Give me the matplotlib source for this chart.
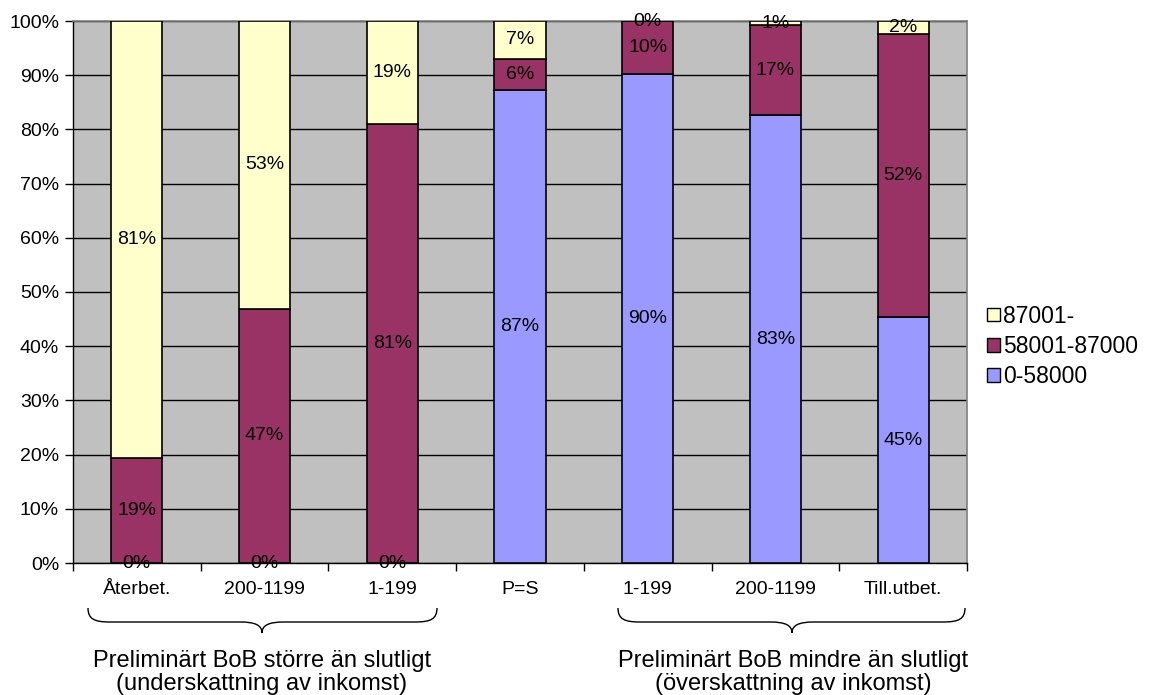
import matplotlib
matplotlib.use("Agg")
import matplotlib.pyplot as plt
import numpy as np
from matplotlib.path import Path
from matplotlib.patches import PathPatch, Patch
from matplotlib.transforms import blended_transform_factory

plt.rcParams['font.family'] = ['Liberation Sans', 'DejaVu Sans']

categories = ["Återbet.", "200-1199", "1-199", "P=S", "1-199", "200-1199", "Till.utbet."]
series_names = ["0-58000", "58001-87000", "87001-"]
low = [0.0, 0.0, 0.0, 87.2, 90.2, 82.6, 45.3]
mid = [19.4, 46.9, 81.0, 5.8, 9.8, 16.6, 52.3]
high = [80.6, 53.1, 19.0, 7.0, 0.0, 0.8, 2.4]
group_labels = ["Preliminärt BoB större än slutligt\n(underskattning av inkomst)",
                "Preliminärt BoB mindre än slutligt\n(överskattning av inkomst)"]
yticks = [0, 10, 20, 30, 40, 50, 60, 70, 80, 90, 100]

colors = ["#9999FF", "#993366", "#FFFFCC"]
W, H = 1156, 695
fig = plt.figure(figsize=(W / 100, H / 100), dpi=100)
L, R, T, B = 73, 967, 21, 563
ax = fig.add_axes([L / W, 1 - B / H, (R - L) / W, (B - T) / H])
ax.set_facecolor("#C0C0C0")

x = np.arange(len(categories))
fs = 14
fs_big = 17
bottom = np.zeros(len(categories))
for vals, c in zip([low, mid, high], colors):
    v = np.array(vals)
    ax.bar(x, v, width=0.4, bottom=bottom, color=c, edgecolor="black", linewidth=1.2, zorder=3)
    for xi, b, h in zip(x, bottom, v):
        ax.text(xi, b + h / 2, f"{int(round(h))}%", ha="center", va="center",
                fontsize=fs, color="black", zorder=5, clip_on=False)
    bottom = bottom + v

ax.set_xlim(-0.5, len(categories) - 0.5)
ax.set_ylim(0, 100)
ax.set_yticks(yticks)
ax.set_yticklabels([f"{t}%" for t in yticks], fontsize=fs)
ax.yaxis.grid(True, color="black", linewidth=1.0, zorder=1)
ax.set_axisbelow(True)

ax.set_xticks(x)
ax.set_xticklabels(categories, fontsize=fs)
ax.set_xticks(np.arange(-0.5, len(categories), 1.0), minor=True)
ax.tick_params(axis="x", which="major", length=0, pad=13)
ax.tick_params(axis="x", which="minor", length=6, width=1, direction="out", color="black")
ax.tick_params(axis="y", length=6, width=1, direction="out", pad=4)

for s in ["top", "right"]:
    ax.spines[s].set_color("#808080")
    ax.spines[s].set_linewidth(1.2)
for s in ["left", "bottom"]:
    ax.spines[s].set_color("black")
    ax.spines[s].set_linewidth(1.0)

# braces
tr = blended_transform_factory(ax.transData, fig.transFigure)
unit = (R - L) / len(categories)

def brace(x0, x1, xt):
    r = 22 / unit
    y_top, y_mid, y_tip = 1 - 608 / H, 1 - 622 / H, 1 - 633 / H
    dy1 = (y_top - y_mid)
    verts = [
        (x0, y_top), (x0, y_mid + dy1 * 0.2), (x0 + r * 0.3, y_mid), (x0 + r, y_mid),
        (xt - r, y_mid), (xt - r * 0.3, y_mid), (xt, y_mid - (y_mid - y_tip) * 0.3), (xt, y_tip),
        (xt, y_mid - (y_mid - y_tip) * 0.3), (xt + r * 0.3, y_mid), (xt + r, y_mid),
        (x1 - r, y_mid), (x1 - r * 0.3, y_mid), (x1, y_mid + dy1 * 0.2), (x1, y_top),
    ]
    codes = [Path.MOVETO, Path.CURVE4, Path.CURVE4, Path.CURVE4,
             Path.LINETO, Path.CURVE4, Path.CURVE4, Path.CURVE4,
             Path.CURVE4, Path.CURVE4, Path.CURVE4,
             Path.LINETO, Path.CURVE4, Path.CURVE4, Path.CURVE4]
    p = PathPatch(Path(verts, codes), transform=tr, fill=False, edgecolor="black",
                  linewidth=1.0, clip_on=False)
    fig.add_artist(p)

def px2d(px):
    return (px - L) / unit - 0.5

brace(px2d(88), px2d(437), px2d(262))
brace(px2d(618), px2d(965), px2d(792))
fig.text(262 / W, 1 - 672.5 / H, group_labels[0], ha="center", va="center", fontsize=fs_big, linespacing=1.08)
fig.text(793 / W, 1 - 672.5 / H, group_labels[1], ha="center", va="center", fontsize=fs_big, linespacing=1.08)

handles = [Patch(facecolor=c, edgecolor="black", linewidth=1.0) for c in colors[::-1]]
leg = fig.legend(handles, series_names[::-1], loc="center left",
                 bbox_to_anchor=(987 / W, 1 - 346.5 / H), frameon=False, fontsize=16.5,
                 handlelength=0.55, handleheight=0.55, handletextpad=0.15,
                 labelspacing=0.32, borderaxespad=0, borderpad=0)

fig.savefig("out.png", dpi=100)
